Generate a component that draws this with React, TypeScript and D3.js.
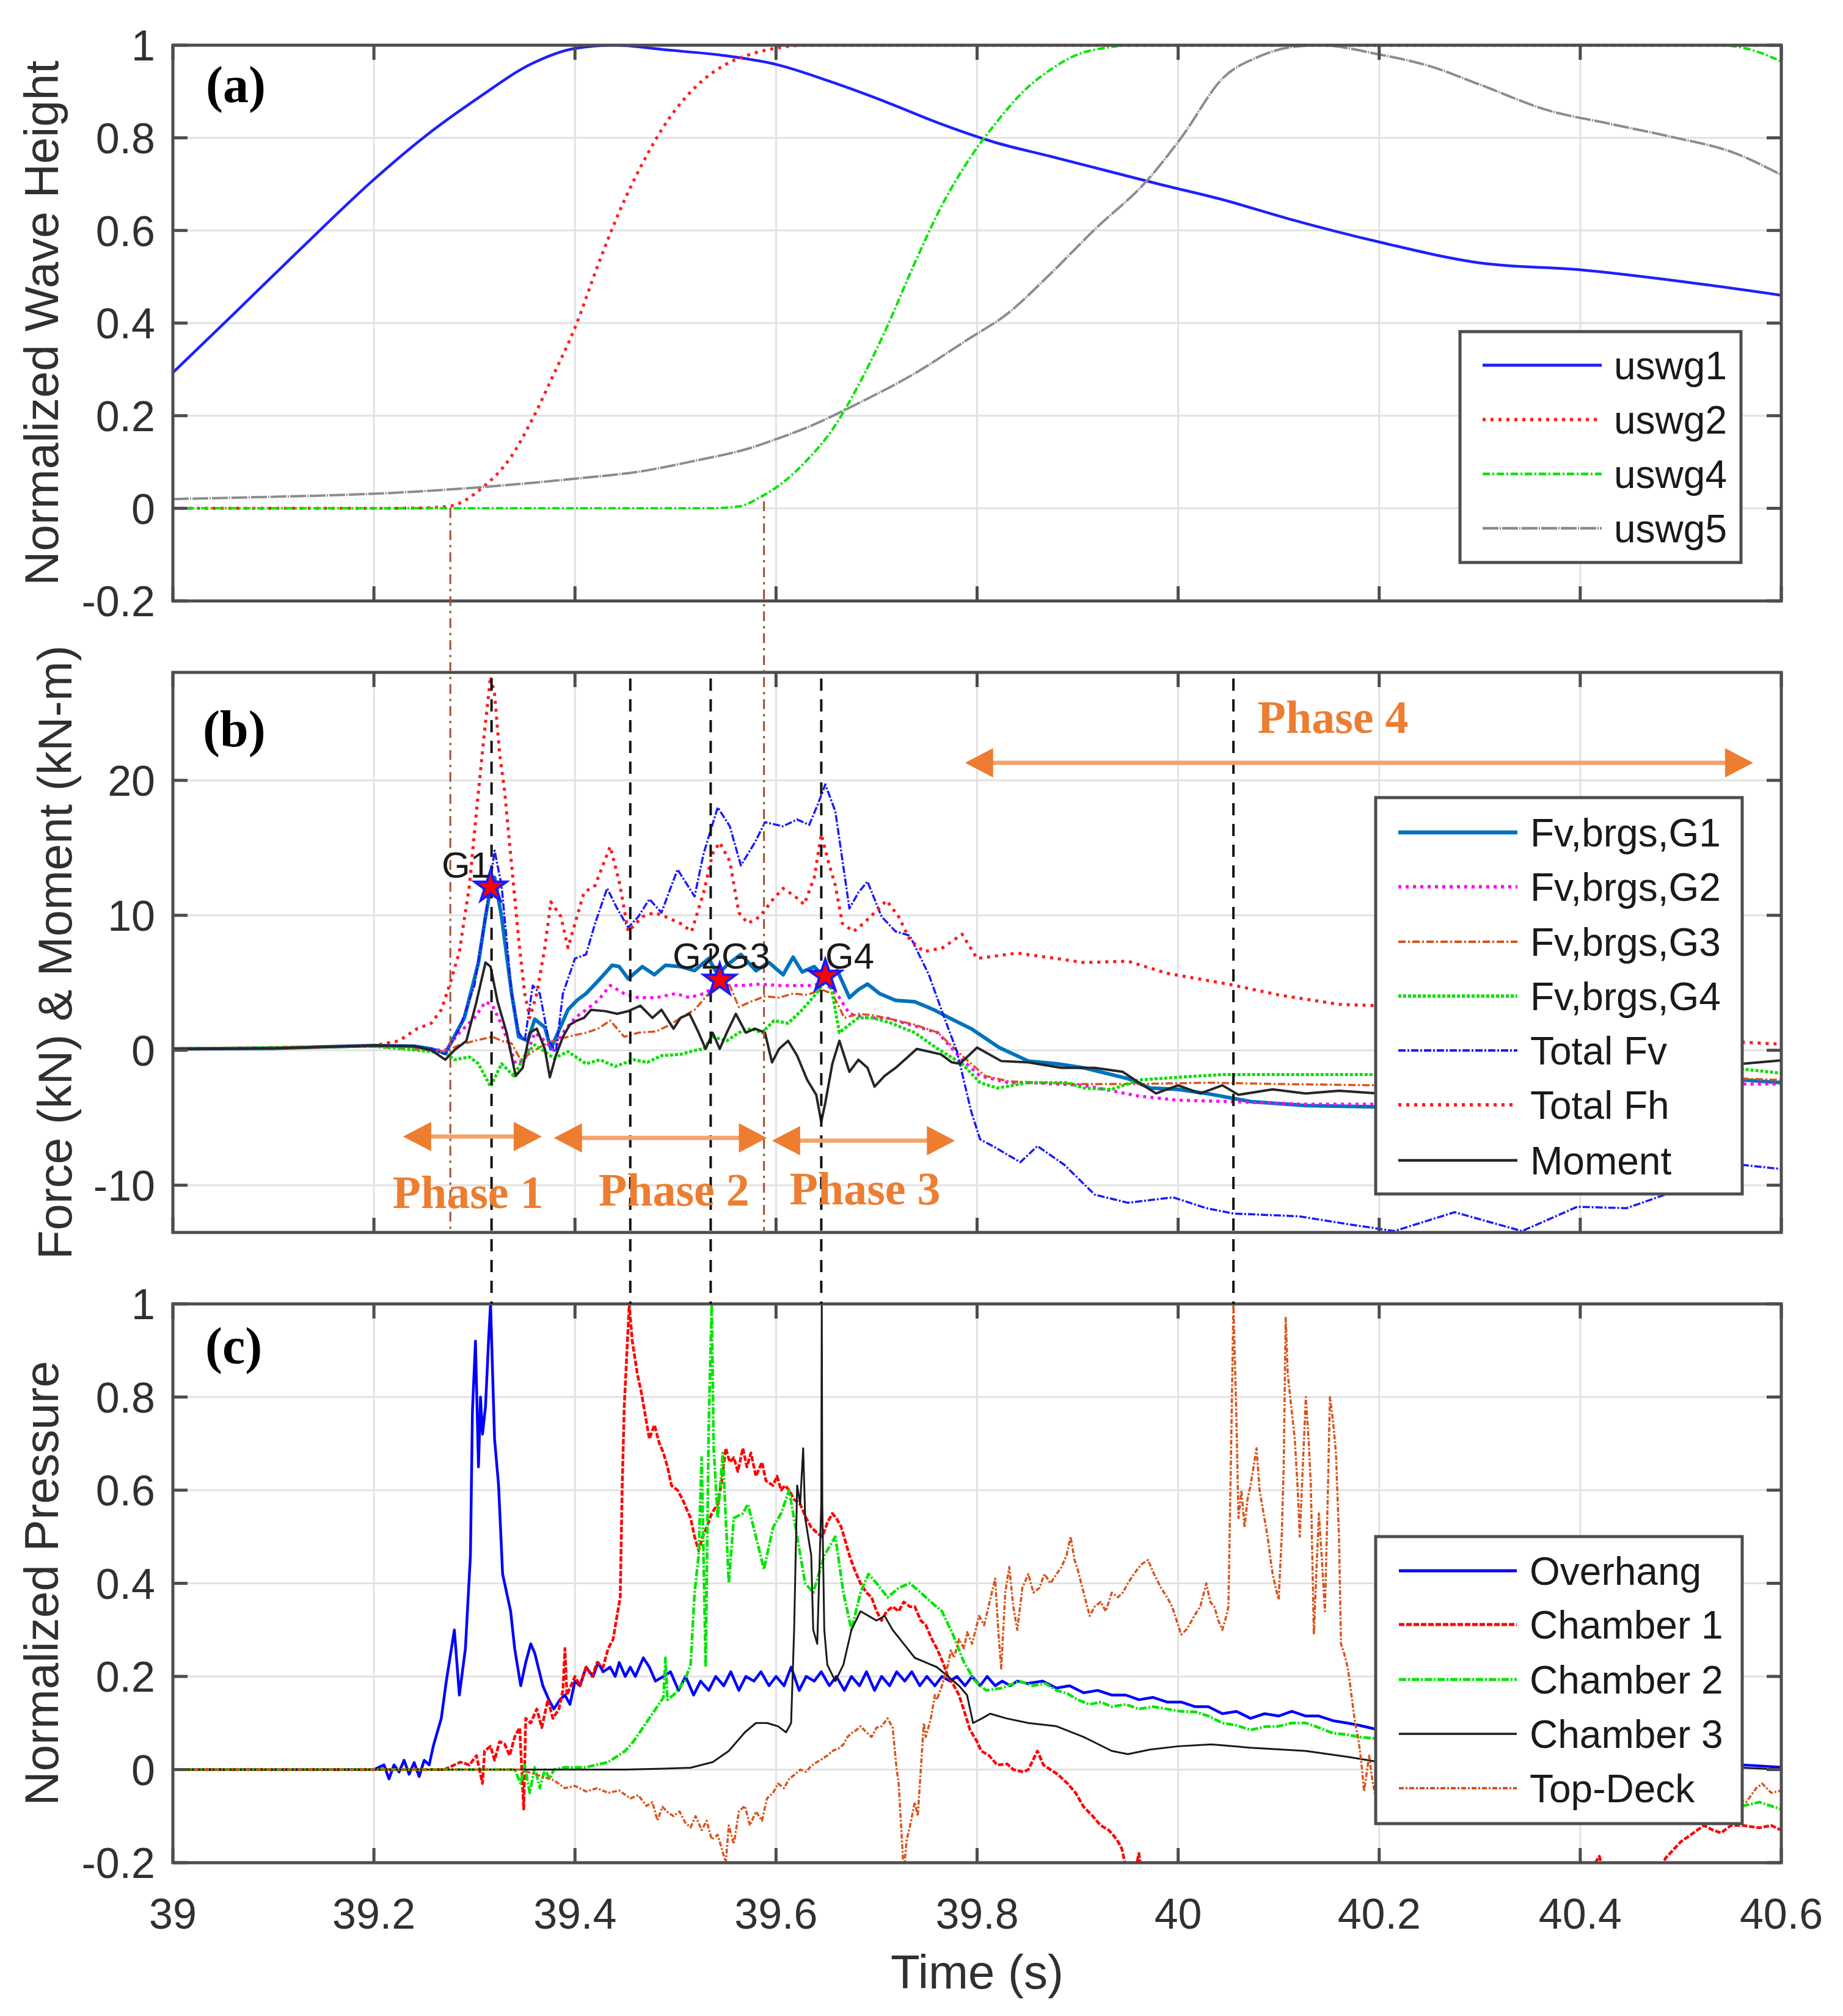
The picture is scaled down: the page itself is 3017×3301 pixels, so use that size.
import React from "react";
import * as d3 from "d3";

type Pt = [number, number];

// ---------------- axes ticks ----------------
const timeTicks = [39, 39.2, 39.4, 39.6, 39.8, 40, 40.2, 40.4, 40.6];
const timeTickLabels = ["39", "39.2", "39.4", "39.6", "39.8", "40", "40.2", "40.4", "40.6"];
const normTicks = [-0.2, 0, 0.2, 0.4, 0.6, 0.8, 1];
const normTickLabels = ["-0.2", "0", "0.2", "0.4", "0.6", "0.8", "1"];
const forceTicks = [-10, 0, 10, 20];
const forceTickLabels = ["-10", "0", "10", "20"];

// ---------------- (a) wave gauges ----------------
const waveNames = ["uswg1", "uswg2", "uswg4", "uswg5"];
const uswg1: Pt[] = [
  [39.0, 0.293], [39.063, 0.425], [39.127, 0.56], [39.2, 0.71], [39.249, 0.8], [39.303, 0.885],
  [39.357, 0.96], [39.4, 0.993], [39.44, 1.0], [39.49, 0.99], [39.547, 0.978], [39.601, 0.958],
  [39.656, 0.92], [39.71, 0.877], [39.764, 0.83], [39.818, 0.79], [39.873, 0.76], [39.927, 0.73],
  [39.981, 0.7], [40.045, 0.666], [40.11, 0.625], [40.2, 0.575], [40.3, 0.53], [40.4, 0.515],
  [40.5, 0.49], [40.6, 0.46],
];
const uswg2: Pt[] = [
  [39.0, 0], [39.2, 0], [39.25, 0.001], [39.276, 0.005], [39.308, 0.045], [39.336, 0.11], [39.357, 0.19],
  [39.379, 0.29], [39.4, 0.39], [39.422, 0.52], [39.444, 0.64], [39.466, 0.74], [39.493, 0.84],
  [39.52, 0.91], [39.547, 0.955], [39.574, 0.98], [39.601, 0.994], [39.629, 1.0], [40.6, 1.0],
];
const uswg4: Pt[] = [
  [39.0, 0], [39.53, 0], [39.563, 0.004], [39.585, 0.025], [39.607, 0.056], [39.629, 0.1], [39.656, 0.17],
  [39.683, 0.27], [39.71, 0.39], [39.737, 0.525], [39.764, 0.65], [39.791, 0.75], [39.818, 0.83],
  [39.846, 0.9], [39.873, 0.947], [39.9, 0.98], [39.927, 0.994], [39.954, 1.0], [40.54, 1.0],
  [40.57, 0.99], [40.6, 0.965],
];
const uswg5: Pt[] = [
  [39.0, 0.02], [39.1, 0.025], [39.195, 0.031], [39.303, 0.045], [39.4, 0.064], [39.466, 0.08],
  [39.52, 0.103], [39.574, 0.13], [39.601, 0.15], [39.629, 0.173], [39.683, 0.228], [39.737, 0.29],
  [39.791, 0.365], [39.83, 0.42], [39.87, 0.5], [39.916, 0.6], [39.97, 0.71], [40.003, 0.8],
  [40.045, 0.93], [40.08, 0.975], [40.11, 0.995], [40.14, 1.0], [40.2, 0.98], [40.25, 0.955],
  [40.3, 0.915], [40.367, 0.86], [40.43, 0.83], [40.495, 0.8], [40.55, 0.77], [40.6, 0.72],
];

// ---------------- (b) forces ----------------
const forceNames = ["Fv,brgs,G1", "Fv,brgs,G2", "Fv,brgs,G3", "Fv,brgs,G4", "Total Fv", "Total Fh", "Moment"];
const fvG1: Pt[] = [
  [39, 0.1], [39.1, 0.15], [39.2, 0.35], [39.24, 0.3], [39.257, 0.1], [39.271, -0.2], [39.29, 2.4],
  [39.304, 6.5], [39.311, 9.9], [39.316, 12], [39.32, 12.8], [39.327, 9.9], [39.337, 4.2], [39.344, 1],
  [39.353, 0.7], [39.36, 2.3], [39.37, 1.7], [39.376, 0.1], [39.383, 1.3], [39.393, 3], [39.402, 3.7],
  [39.411, 4.2], [39.425, 5.3], [39.437, 6.3], [39.444, 6.2], [39.453, 5.3], [39.467, 6.2], [39.479, 5.6],
  [39.49, 6.3], [39.505, 6.2], [39.519, 5.9], [39.533, 6.8], [39.542, 5.6], [39.551, 6.3], [39.565, 7.1],
  [39.58, 5.9], [39.593, 6.5], [39.607, 5.6], [39.617, 6.9], [39.626, 5.8], [39.638, 6.2], [39.649, 5.3],
  [39.661, 5.9], [39.673, 3.9], [39.682, 4.5], [39.691, 4.9], [39.703, 4.2], [39.719, 3.7], [39.738, 3.6],
  [39.757, 3], [39.775, 2.3], [39.794, 1.6], [39.822, 0.2], [39.851, -0.8], [39.879, -1.0], [39.906, -1.3],
  [39.95, -2.1], [39.972, -2.8], [40.0, -2.9], [40.028, -3.2], [40.072, -3.8], [40.127, -4.1], [40.2, -4.2],
  [40.3, -4.2], [40.4, -3.6], [40.5, -2.8], [40.562, -2.2], [40.6, -2.4],
];
const fvG2: Pt[] = [
  [39, 0.1], [39.2, 0.3], [39.271, 0], [39.285, 1.3], [39.3, 2.4], [39.311, 3.6], [39.318, 3.3],
  [39.327, 1.9], [39.341, -1], [39.35, -0.7], [39.36, 1.3], [39.37, 0.7], [39.379, 0], [39.388, 1.3],
  [39.4, 2.4], [39.411, 3], [39.423, 3.7], [39.435, 4.8], [39.449, 4.2], [39.463, 3.9], [39.481, 3.9],
  [39.5, 4.2], [39.514, 3.9], [39.528, 4.2], [39.542, 4.8], [39.565, 4.8], [39.584, 4.9], [39.603, 4.8],
  [39.621, 4.8], [39.636, 4.8], [39.649, 5], [39.663, 3.9], [39.673, 2.7], [39.691, 2.4], [39.71, 2.4],
  [39.733, 1.9], [39.761, 1.3], [39.785, -0.7], [39.803, -1.9], [39.831, -2.4], [39.85, -2.4],
  [39.906, -2.6], [39.961, -3.4], [40.0, -3.7], [40.05, -3.8], [40.127, -4], [40.2, -4], [40.35, -3.8],
  [40.5, -3], [40.562, -2.5], [40.6, -2.5],
];
const fvG3: Pt[] = [
  [39, 0.1], [39.2, 0.3], [39.271, -0.1], [39.285, 0.4], [39.3, 0.7], [39.318, 1], [39.327, 0.7],
  [39.337, 0.5], [39.346, -0.7], [39.36, 0], [39.374, 0.6], [39.393, 1], [39.411, 1.3], [39.423, 1.6],
  [39.435, 2.2], [39.449, 1], [39.463, 1.3], [39.481, 1.4], [39.495, 1.9], [39.505, 2.4], [39.519, 3],
  [39.533, 4.2], [39.544, 5], [39.554, 4.8], [39.563, 3.2], [39.575, 3.6], [39.589, 4], [39.603, 3.9],
  [39.617, 4.2], [39.631, 4.1], [39.645, 4.5], [39.656, 4.2], [39.668, 2.4], [39.682, 2.7], [39.696, 2.6],
  [39.715, 2.3], [39.738, 1.9], [39.761, 1.3], [39.785, -0.4], [39.808, -1.9], [39.831, -2.3],
  [39.9, -2.5], [39.96, -2.5], [40.03, -2.4], [40.1, -2.5], [40.2, -2.6], [40.4, -2.4], [40.562, -2.1], [40.6, -2.2],
];
const fvG4: Pt[] = [
  [39, 0.1], [39.2, 0.3], [39.271, -0.2], [39.28, -0.7], [39.295, -0.5], [39.304, -1], [39.316, -2.7],
  [39.327, -1], [39.339, -1.9], [39.35, -0.4], [39.36, 0.4], [39.37, -0.1], [39.379, -0.6], [39.393, -0.1],
  [39.411, -1], [39.425, -0.7], [39.44, -1.2], [39.458, -0.7], [39.472, -0.9], [39.486, -0.4], [39.505, -0.3],
  [39.52, 0], [39.528, 0.1], [39.537, 1], [39.551, 0.7], [39.563, 1.3], [39.575, 1.6], [39.586, 1.3],
  [39.598, 2.2], [39.612, 2.0], [39.626, 3], [39.64, 4.2], [39.652, 5.4], [39.656, 4.2], [39.663, 1.3],
  [39.673, 1.9], [39.682, 2.4], [39.696, 2.4], [39.715, 2], [39.738, 1.3], [39.761, 0.1], [39.785, -1],
  [39.803, -2.4], [39.82, -2.8], [39.851, -2.4], [39.89, -2.4], [39.906, -2.8], [39.934, -2.9],
  [39.961, -2.2], [40.0, -2], [40.044, -1.8], [40.127, -1.8], [40.2, -1.8], [40.4, -1.6], [40.562, -1.4], [40.6, -1.7],
];
const totalFv: Pt[] = [
  [39, 0.1], [39.1, 0.15], [39.2, 0.35], [39.24, 0.3], [39.257, 0.1], [39.271, -0.3], [39.285, 1.6],
  [39.3, 4.8], [39.311, 9.9], [39.32, 14.8], [39.327, 12.2], [39.337, 4.2], [39.344, 1.3], [39.35, 0.7],
  [39.358, 4.8], [39.365, 4.2], [39.374, 0.7], [39.381, -0.1], [39.388, 4.2], [39.4, 6.8], [39.411, 7.1],
  [39.42, 9.4], [39.432, 12], [39.442, 10.5], [39.453, 9.1], [39.463, 9.9], [39.474, 11.2], [39.486, 10.2],
  [39.502, 13.4], [39.519, 11.4], [39.528, 14.6], [39.542, 18], [39.554, 16.6], [39.565, 13.7],
  [39.579, 15.4], [39.589, 16.9], [39.607, 16.6], [39.621, 17.1], [39.633, 16.7], [39.642, 18.3],
  [39.649, 19.7], [39.659, 17.7], [39.673, 10.5], [39.682, 11.7], [39.691, 12.5], [39.705, 9.9],
  [39.719, 8.8], [39.733, 8.5], [39.752, 5.6], [39.766, 2.7], [39.78, -0.1], [39.794, -4.5], [39.803, -6.6],
  [39.818, -7.2], [39.843, -8.3], [39.86, -7.1], [39.887, -8.5], [39.917, -10.7], [39.95, -11.3],
  [39.995, -10.9], [40.028, -11.7], [40.055, -12.1], [40.12, -12.3], [40.17, -12.9], [40.215, -13.4],
  [40.275, -12.0], [40.342, -13.4], [40.397, -11.6], [40.446, -11.7], [40.496, -10.4], [40.562, -8.5], [40.6, -8.8],
];
const totalFh: Pt[] = [
  [39, 0.1], [39.1, 0.15], [39.2, 0.35], [39.225, 0.7], [39.243, 1.6], [39.257, 2], [39.267, 3], [39.276, 5],
  [39.285, 7.3], [39.295, 12.2], [39.302, 17.7], [39.309, 22.9], [39.316, 27.7], [39.32, 26.4], [39.325, 22],
  [39.33, 19.2], [39.337, 13.7], [39.344, 8.2], [39.35, 4.2], [39.355, 2.4], [39.362, 4.2], [39.37, 7.6],
  [39.376, 11], [39.386, 9.9], [39.393, 7.6], [39.4, 9.4], [39.409, 11.7], [39.42, 12.2], [39.435, 15.1],
  [39.444, 12.5], [39.453, 8.8], [39.467, 9.9], [39.479, 10.2], [39.49, 9.9], [39.505, 9.4], [39.516, 8.8],
  [39.528, 11.7], [39.537, 14.6], [39.544, 15.4], [39.554, 14], [39.563, 10.2], [39.572, 9.4], [39.584, 9.9],
  [39.596, 11.1], [39.607, 12], [39.619, 11.4], [39.628, 10.8], [39.638, 12.8], [39.645, 16], [39.652, 14],
  [39.659, 12.2], [39.666, 9.4], [39.677, 8.8], [39.687, 9.4], [39.698, 10.2], [39.71, 11.1], [39.722, 9.9],
  [39.733, 8.2], [39.747, 7.3], [39.766, 7.6], [39.785, 8.6], [39.8, 6.8], [39.84, 7.2], [39.879, 6.8],
  [39.906, 6.5], [39.95, 6.6], [39.989, 5.7], [40.05, 4.9], [40.1, 4.1], [40.16, 3.4], [40.2, 3.3],
  [40.3, 2.5], [40.4, 1.5], [40.5, 0.8], [40.562, 0.6], [40.6, 0.45],
];
const moment: Pt[] = [
  [39, 0.1], [39.1, 0.15], [39.2, 0.35], [39.24, 0.3], [39.257, 0], [39.271, -0.7], [39.28, 0], [39.292, 0.7],
  [39.302, 3.6], [39.311, 6.5], [39.316, 6.2], [39.323, 3.6], [39.332, 1.3], [39.341, -1.9], [39.348, -1.3],
  [39.355, 1.3], [39.362, 1.6], [39.37, 0.1], [39.375, -2], [39.381, -0.4], [39.388, 1], [39.395, 1.9],
  [39.402, 2.2], [39.409, 2.4], [39.416, 3], [39.43, 2.9], [39.442, 2.7], [39.453, 2.9], [39.465, 3.3],
  [39.477, 2.4], [39.486, 3], [39.498, 1.6], [39.505, 2.4], [39.514, 2.7], [39.523, 1.3], [39.53, 0.1],
  [39.537, 1.3], [39.544, 0.1], [39.551, 1.3], [39.56, 2.7], [39.57, 1.3], [39.579, 1.6], [39.589, 1.3],
  [39.596, -0.9], [39.603, 0.1], [39.612, 0.7], [39.621, -0.4], [39.631, -2.2], [39.64, -3.3], [39.645, -5.3],
  [39.649, -3.9], [39.656, -1], [39.663, 0.7], [39.673, -1.6], [39.682, -0.7], [39.691, -1.3], [39.698, -2.7],
  [39.708, -1.9], [39.719, -1.3], [39.728, -0.7], [39.74, 0.1], [39.752, -0.1], [39.764, -0.3], [39.775, -0.9],
  [39.783, -1], [39.8, 0.2], [39.824, -0.8], [39.851, -0.9], [39.884, -1.3], [39.917, -1.3], [39.945, -1.6],
  [39.961, -2.4], [39.978, -3.2], [40.0, -2.6], [40.022, -3.2], [40.044, -2.6], [40.06, -3.3], [40.094, -2.9],
  [40.127, -3.2], [40.16, -3.0], [40.2, -3.2], [40.3, -3.0], [40.4, -2.5], [40.5, -1.5], [40.562, -1], [40.6, -0.75],
];

// gauge stars and labels in (b)
const starPoints: Pt[] = [[39.316, 12.1], [39.544, 5.2], [39.649, 5.5]];
const gaugeLabels = ["G1", "G2G3", "G4"];
const gaugeLabelPos: Pt[] = [[39.316, 12.8], [39.497, 6.05], [39.649, 6.05]];

// phases in (b): [start, end, level]
const phaseSpans: [number, number, number][] = [
  [39.229, 39.367, -6.4], [39.379, 39.591, -6.5], [39.596, 39.778, -6.7], [39.788, 40.572, 21.3],
];
const phaseNames = ["Phase 1", "Phase 2", "Phase 3", "Phase 4"];
const phaseLabelPos: Pt[] = [[39.2935, -11.7], [39.4985, -11.5], [39.6885, -11.4], [40.154, 23.5]];

// event markers
const eventTimes = [39.317, 39.455, 39.535, 39.645, 40.055];
const onsetTimes = [39.276, 39.588];
const onsetLevels = [0, 0.015];

// ---------------- (c) pressures ----------------
const pressureNames = ["Overhang", "Chamber 1", "Chamber 2", "Chamber 3", "Top-Deck"];
const overhang: Pt[] = [
  [39, 0], [39.2, 0], [39.21, 0.01], [39.215, -0.02], [39.22, 0.01], [39.225, -0.005], [39.23, 0.02],
  [39.235, -0.01], [39.24, 0.015], [39.245, -0.015], [39.25, 0.02], [39.255, 0.01], [39.259, 0.05],
  [39.267, 0.11], [39.272, 0.19], [39.28, 0.3], [39.285, 0.16], [39.291, 0.26], [39.296, 0.46],
  [39.298, 0.77], [39.301, 0.92], [39.304, 0.65], [39.306, 0.8], [39.308, 0.72], [39.311, 0.78],
  [39.314, 0.92], [39.316, 1.0], [39.32, 0.71], [39.324, 0.61], [39.328, 0.42], [39.332, 0.38], [39.336, 0.34],
  [39.34, 0.26], [39.346, 0.18], [39.351, 0.23], [39.356, 0.27], [39.36, 0.25], [39.368, 0.18],
  [39.374, 0.15], [39.379, 0.13], [39.385, 0.15], [39.39, 0.16], [39.395, 0.14], [39.4, 0.19],
  [39.405, 0.18], [39.411, 0.22], [39.418, 0.2], [39.423, 0.23], [39.428, 0.21], [39.435, 0.22],
  [39.44, 0.2], [39.444, 0.23], [39.45, 0.2], [39.455, 0.22], [39.46, 0.2], [39.468, 0.24], [39.474, 0.22],
  [39.48, 0.19], [39.488, 0.2], [39.495, 0.21], [39.503, 0.17], [39.51, 0.2], [39.518, 0.16], [39.525, 0.19],
  [39.533, 0.17], [39.54, 0.2], [39.548, 0.18], [39.555, 0.21], [39.563, 0.17], [39.57, 0.2], [39.578, 0.19],
  [39.585, 0.21], [39.593, 0.18], [39.6, 0.2], [39.608, 0.18], [39.615, 0.22], [39.623, 0.17], [39.63, 0.2],
  [39.638, 0.19], [39.645, 0.21], [39.653, 0.18], [39.66, 0.2], [39.668, 0.17], [39.675, 0.2], [39.683, 0.18],
  [39.69, 0.21], [39.698, 0.17], [39.705, 0.2], [39.713, 0.18], [39.72, 0.21], [39.728, 0.19], [39.735, 0.21],
  [39.743, 0.18], [39.75, 0.2], [39.758, 0.18], [39.765, 0.2], [39.773, 0.19], [39.78, 0.2], [39.788, 0.18],
  [39.795, 0.2], [39.803, 0.18], [39.81, 0.2], [39.818, 0.18], [39.825, 0.19], [39.833, 0.18], [39.84, 0.19],
  [39.85, 0.185], [39.865, 0.19], [39.879, 0.175], [39.892, 0.18], [39.906, 0.165], [39.92, 0.17],
  [39.934, 0.16], [39.948, 0.16], [39.961, 0.15], [39.975, 0.155], [39.989, 0.145], [40.003, 0.145],
  [40.017, 0.135], [40.03, 0.135], [40.044, 0.12], [40.058, 0.125], [40.072, 0.11], [40.086, 0.12],
  [40.1, 0.115], [40.113, 0.125], [40.127, 0.115], [40.14, 0.115], [40.154, 0.105], [40.168, 0.1],
  [40.18, 0.095], [40.2, 0.085], [40.3, 0.06], [40.4, 0.035], [40.5, 0.015], [40.562, 0.01], [40.6, 0.005],
];
const chamber1: Pt[] = [
  [39, 0], [39.27, 0], [39.286, 0.016], [39.295, 0.01], [39.302, 0.03], [39.308, -0.03], [39.31, 0.04],
  [39.316, 0.05], [39.32, 0.02], [39.325, 0.06], [39.33, 0.055], [39.335, 0.03], [39.34, 0.07], [39.345, 0.09],
  [39.349, -0.085], [39.351, 0.11], [39.356, 0.1], [39.362, 0.13], [39.367, 0.09], [39.373, 0.15],
  [39.378, 0.11], [39.384, 0.13], [39.388, 0.17], [39.39, 0.26], [39.392, 0.16], [39.4, 0.2], [39.405, 0.18],
  [39.411, 0.22], [39.417, 0.2], [39.422, 0.23], [39.428, 0.22], [39.433, 0.26], [39.438, 0.28], [39.441, 0.32],
  [39.445, 0.37], [39.447, 0.61], [39.449, 0.78], [39.454, 1.0], [39.457, 0.92], [39.462, 0.85], [39.466, 0.81],
  [39.47, 0.76], [39.474, 0.71], [39.479, 0.74], [39.484, 0.7], [39.488, 0.68], [39.492, 0.65], [39.496, 0.61],
  [39.502, 0.6], [39.507, 0.58], [39.511, 0.56], [39.515, 0.54], [39.519, 0.5], [39.523, 0.47], [39.527, 0.5],
  [39.531, 0.52], [39.536, 0.55], [39.542, 0.57], [39.546, 0.62], [39.55, 0.69], [39.554, 0.66], [39.558, 0.67],
  [39.562, 0.64], [39.567, 0.69], [39.571, 0.65], [39.575, 0.68], [39.58, 0.63], [39.586, 0.66], [39.59, 0.62],
  [39.597, 0.61], [39.601, 0.63], [39.605, 0.6], [39.609, 0.61], [39.613, 0.6], [39.618, 0.58], [39.624, 0.57],
  [39.63, 0.54], [39.635, 0.52], [39.64, 0.51], [39.646, 0.5], [39.651, 0.53], [39.656, 0.55], [39.66, 0.54],
  [39.665, 0.52], [39.669, 0.49], [39.673, 0.46], [39.678, 0.43], [39.684, 0.4], [39.69, 0.38], [39.695, 0.37],
  [39.7, 0.34], [39.705, 0.32], [39.71, 0.34], [39.716, 0.35], [39.722, 0.34], [39.727, 0.36], [39.733, 0.35],
  [39.738, 0.35], [39.744, 0.32], [39.749, 0.31], [39.755, 0.28], [39.76, 0.26], [39.766, 0.23], [39.771, 0.2],
  [39.777, 0.18], [39.782, 0.16], [39.788, 0.12], [39.793, 0.085], [39.8, 0.06], [39.804, 0.04], [39.812, 0.03],
  [39.82, 0.01], [39.83, 0.012], [39.836, 0], [39.846, -0.005], [39.851, 0], [39.86, 0.04], [39.866, 0.01],
  [39.873, 0.0], [39.88, -0.01], [39.89, -0.03], [39.898, -0.05], [39.906, -0.08], [39.915, -0.1],
  [39.923, -0.12], [39.931, -0.13], [39.939, -0.15], [39.944, -0.17], [39.948, -0.21], [39.953, -0.25],
  [39.958, -0.21], [39.961, -0.18], [39.965, -0.25], [39.98, -0.3], [40.0, -0.35], [40.2, -0.4], [40.4, -0.3],
  [40.415, -0.2], [40.419, -0.186], [40.423, -0.22], [40.47, -0.25], [40.485, -0.19], [40.5, -0.155],
  [40.51, -0.14], [40.523, -0.12], [40.532, -0.13], [40.54, -0.136], [40.55, -0.12], [40.562, -0.12],
  [40.578, -0.125], [40.59, -0.12], [40.6, -0.13],
];
const chamber2: Pt[] = [
  [39, 0], [39.34, 0], [39.346, -0.03], [39.35, 0.01], [39.355, -0.05], [39.36, 0.005], [39.365, -0.04],
  [39.37, 0], [39.375, -0.02], [39.379, 0], [39.39, 0.005], [39.411, 0.005], [39.433, 0.016], [39.45, 0.04],
  [39.458, 0.06], [39.466, 0.085], [39.477, 0.12], [39.488, 0.155], [39.49, 0.24], [39.492, 0.15],
  [39.498, 0.16], [39.509, 0.19], [39.515, 0.225], [39.519, 0.38], [39.523, 0.46], [39.526, 0.67], [39.53, 0.22],
  [39.533, 0.73], [39.536, 1.0], [39.538, 0.69], [39.542, 0.54], [39.547, 0.68], [39.553, 0.4], [39.558, 0.54],
  [39.567, 0.55], [39.572, 0.57], [39.58, 0.5], [39.588, 0.43], [39.597, 0.52], [39.605, 0.55], [39.613, 0.6],
  [39.621, 0.5], [39.629, 0.4], [39.637, 0.38], [39.648, 0.46], [39.659, 0.5], [39.667, 0.38], [39.675, 0.3],
  [39.684, 0.38], [39.692, 0.42], [39.7, 0.4], [39.711, 0.37], [39.722, 0.39], [39.733, 0.4], [39.744, 0.38],
  [39.754, 0.36], [39.765, 0.34], [39.776, 0.29], [39.787, 0.23], [39.798, 0.19], [39.809, 0.17],
  [39.825, 0.175], [39.842, 0.19], [39.855, 0.18], [39.868, 0.185], [39.879, 0.17], [39.89, 0.163],
  [39.9, 0.15], [39.912, 0.14], [39.923, 0.145], [39.934, 0.135], [39.948, 0.14], [39.961, 0.13],
  [39.975, 0.135], [39.989, 0.13], [40.003, 0.125], [40.017, 0.124], [40.03, 0.115], [40.044, 0.1],
  [40.058, 0.095], [40.072, 0.085], [40.086, 0.092], [40.1, 0.093], [40.113, 0.1], [40.127, 0.1],
  [40.14, 0.09], [40.154, 0.078], [40.168, 0.075], [40.18, 0.07], [40.2, 0.066], [40.3, 0.03], [40.4, -0.01],
  [40.5, -0.05], [40.562, -0.078], [40.578, -0.07], [40.6, -0.085],
];
const chamber3: Pt[] = [
  [39, 0], [39.45, 0], [39.488, 0.002], [39.515, 0.004], [39.537, 0.016], [39.553, 0.04], [39.569, 0.08],
  [39.58, 0.1], [39.591, 0.1], [39.602, 0.093], [39.61, 0.08], [39.615, 0.1], [39.618, 0.3], [39.621, 0.61],
  [39.624, 0.57], [39.627, 0.69], [39.629, 0.54], [39.635, 0.46], [39.637, 0.3], [39.641, 0.27], [39.645, 0.57],
  [39.6455, 1.0], [39.646, 0.57], [39.648, 0.3], [39.651, 0.225], [39.659, 0.19], [39.667, 0.225],
  [39.675, 0.3], [39.684, 0.34], [39.692, 0.33], [39.7, 0.32], [39.708, 0.33], [39.716, 0.3], [39.727, 0.27],
  [39.738, 0.24], [39.749, 0.23], [39.76, 0.22], [39.771, 0.2], [39.782, 0.18], [39.79, 0.16], [39.796, 0.1],
  [39.805, 0.11], [39.813, 0.12], [39.829, 0.11], [39.851, 0.1], [39.879, 0.093], [39.906, 0.07],
  [39.934, 0.04], [39.95, 0.033], [39.972, 0.043], [40.0, 0.05], [40.033, 0.054], [40.072, 0.047],
  [40.127, 0.04], [40.17, 0.027], [40.2, 0.016], [40.4, 0.005], [40.562, 0.004], [40.6, 0],
];
const topDeck: Pt[] = [
  [39, 0], [39.3, 0], [39.346, 0.0], [39.36, -0.01], [39.379, -0.023], [39.39, -0.04], [39.4, -0.035],
  [39.411, -0.047], [39.422, -0.04], [39.433, -0.05], [39.444, -0.045], [39.455, -0.062], [39.463, -0.055],
  [39.471, -0.078], [39.477, -0.07], [39.482, -0.109], [39.487, -0.08], [39.493, -0.093], [39.498, -0.1],
  [39.504, -0.09], [39.51, -0.115], [39.515, -0.124], [39.52, -0.1], [39.526, -0.13], [39.531, -0.11],
  [39.536, -0.15], [39.542, -0.14], [39.546, -0.17], [39.55, -0.2], [39.553, -0.12], [39.558, -0.16],
  [39.563, -0.09], [39.569, -0.078], [39.574, -0.12], [39.58, -0.09], [39.586, -0.11], [39.591, -0.062],
  [39.597, -0.05], [39.602, -0.03], [39.608, -0.04], [39.613, -0.02], [39.619, -0.01], [39.624, 0],
  [39.63, -0.005], [39.635, 0.008], [39.64, 0.015], [39.646, 0.023], [39.651, 0.03], [39.656, 0.04],
  [39.662, 0.045], [39.667, 0.054], [39.671, 0.07], [39.675, 0.078], [39.68, 0.085], [39.684, 0.093],
  [39.69, 0.08], [39.695, 0.07], [39.7, 0.09], [39.705, 0.093], [39.711, 0.11], [39.716, 0.09], [39.72, 0.0],
  [39.722, -0.03], [39.727, -0.22], [39.73, -0.15], [39.733, -0.124], [39.738, -0.07], [39.741, -0.1],
  [39.744, 0.0], [39.747, 0.1], [39.749, 0.07], [39.754, 0.11], [39.758, 0.16], [39.76, 0.15], [39.765, 0.18],
  [39.771, 0.225], [39.774, 0.256], [39.777, 0.24], [39.782, 0.28], [39.787, 0.26], [39.79, 0.295],
  [39.795, 0.27], [39.802, 0.33], [39.807, 0.31], [39.813, 0.365], [39.818, 0.41], [39.821, 0.3],
  [39.824, 0.217], [39.828, 0.38], [39.832, 0.435], [39.836, 0.35], [39.84, 0.3], [39.845, 0.39],
  [39.851, 0.42], [39.856, 0.38], [39.862, 0.39], [39.867, 0.42], [39.873, 0.4], [39.879, 0.42],
  [39.884, 0.435], [39.889, 0.46], [39.893, 0.5], [39.897, 0.45], [39.9, 0.43], [39.906, 0.38],
  [39.912, 0.33], [39.917, 0.35], [39.923, 0.36], [39.928, 0.34], [39.934, 0.38], [39.94, 0.37],
  [39.945, 0.38], [39.95, 0.4], [39.956, 0.42], [39.963, 0.44], [39.97, 0.45], [39.976, 0.42], [39.983, 0.39],
  [39.989, 0.37], [39.994, 0.35], [40.0, 0.31], [40.003, 0.29], [40.008, 0.3], [40.011, 0.31], [40.016, 0.33],
  [40.022, 0.35], [40.028, 0.4], [40.032, 0.36], [40.036, 0.35], [40.04, 0.32], [40.044, 0.3], [40.048, 0.33],
  [40.05, 0.35], [40.052, 0.6], [40.055, 1.0], [40.058, 0.75], [40.06, 0.54], [40.063, 0.6], [40.066, 0.52],
  [40.069, 0.58], [40.072, 0.61], [40.075, 0.65], [40.078, 0.69], [40.081, 0.6], [40.085, 0.55],
  [40.089, 0.5], [40.092, 0.45], [40.094, 0.42], [40.097, 0.39], [40.1, 0.365], [40.103, 0.5], [40.105, 0.65],
  [40.107, 0.97], [40.109, 0.85], [40.111, 0.81], [40.114, 0.75], [40.116, 0.71], [40.119, 0.6],
  [40.121, 0.5], [40.124, 0.65], [40.127, 0.8], [40.13, 0.7], [40.132, 0.61], [40.134, 0.4], [40.135, 0.29],
  [40.138, 0.45], [40.14, 0.55], [40.143, 0.45], [40.146, 0.34], [40.149, 0.6], [40.151, 0.8], [40.154, 0.75],
  [40.157, 0.68], [40.16, 0.5], [40.162, 0.27], [40.165, 0.25], [40.168, 0.225], [40.17, 0.2], [40.173, 0.15],
  [40.176, 0.1], [40.179, 0.07], [40.182, 0.02], [40.185, -0.047], [40.188, 0.0], [40.19, 0.03],
  [40.193, -0.02], [40.196, -0.054], [40.2, 0.0], [40.21, -0.02], [40.3, -0.03], [40.5, -0.05], [40.54, -0.08],
  [40.552, -0.06], [40.565, -0.07], [40.575, -0.04], [40.581, -0.03], [40.59, -0.05], [40.6, -0.045],
];

// ---------------- styling (kept apart from data) ----------------
type Sty = { color: string; width: number; dash?: string };
const waveStyles: Sty[] = [
  { color: "#1f1fff", width: 4.5 },
  { color: "#ff2020", width: 5, dash: "5 8" },
  { color: "#00e600", width: 4, dash: "12 4 3 4" },
  { color: "#8c8c8c", width: 4, dash: "26 2 2 2" },
];
const forceStyles: Sty[] = [
  { color: "#0072bd", width: 6 },
  { color: "#ff00ff", width: 5, dash: "5 7" },
  { color: "#d95319", width: 3.5, dash: "12 4 3 4" },
  { color: "#00e000", width: 5, dash: "5 3" },
  { color: "#1a1aff", width: 3.5, dash: "12 3 3 3" },
  { color: "#ff1a1a", width: 5, dash: "5 8" },
  { color: "#262626", width: 4 },
];
const pressureStyles: Sty[] = [
  { color: "#0000ff", width: 4.5 },
  { color: "#ff0000", width: 4.5, dash: "9 3" },
  { color: "#00e600", width: 4.5, dash: "12 3 3 3" },
  { color: "#1a1a1a", width: 3 },
  { color: "#d95319", width: 3.5, dash: "8 3 3 3" },
];

const W = 3017;
const H = 3301;
const X0 = 283;
const X1 = 2916;
const SANS = "'Liberation Sans', Arial, sans-serif";
const SERIF = "'Liberation Serif', 'Times New Roman', serif";
const AXIS = "#4d4d4d";
const TICKTXT = "#303030";
const ORANGE = "#ED7D31";

const xScale = d3.scaleLinear().domain([39, 40.6]).range([X0, X1]);

type LegendSpec = {
  x: number; y: number; w: number; h: number;
  rowY: number[]; lx0: number; lx1: number; tx: number;
};

type PanelProps = {
  id: string;
  top: number;
  bottom: number;
  yDomain: [number, number];
  yTicks: number[];
  yTickLabels: string[];
  series: Pt[][];
  styles: Sty[];
  names: string[];
  smooth?: boolean;
  showXLabels?: boolean;
  yTitle: string;
  yTitleX: number;
  tag: string;
  tagX: number;
  tagY: number;
  legend: LegendSpec;
};

function Panel(p: PanelProps) {
  const y = d3.scaleLinear().domain(p.yDomain).range([p.bottom, p.top]);
  const line = d3
    .line<Pt>()
    .x((d) => xScale(d[0]))
    .y((d) => y(d[1]))
    .curve(p.smooth ? d3.curveMonotoneX : d3.curveLinear);
  const TL = 24;
  const L = p.legend;
  return (
    <g>
      <defs>
        <clipPath id={`clip-${p.id}`}>
          <rect x={X0} y={p.top} width={X1 - X0} height={p.bottom - p.top} />
        </clipPath>
      </defs>
      <rect x={X0} y={p.top} width={X1 - X0} height={p.bottom - p.top} fill="#fff" />
      {timeTicks.map((t, i) => (
        <line key={`gx${i}`} x1={xScale(t)} x2={xScale(t)} y1={p.top} y2={p.bottom} stroke="#e2e2e2" strokeWidth={3} />
      ))}
      {p.yTicks.map((v, i) => (
        <line key={`gy${i}`} x1={X0} x2={X1} y1={y(v)} y2={y(v)} stroke="#e2e2e2" strokeWidth={3} />
      ))}
      <g clipPath={`url(#clip-${p.id})`}>
        {p.series.map((s, i) => (
          <path
            key={`s${i}`}
            d={line(s) || ""}
            fill="none"
            stroke={p.styles[i].color}
            strokeWidth={p.styles[i].width}
            strokeDasharray={p.styles[i].dash}
            strokeLinejoin="round"
          />
        ))}
      </g>
      <rect x={X0} y={p.top} width={X1 - X0} height={p.bottom - p.top} fill="none" stroke={AXIS} strokeWidth={5} />
      {timeTicks.map((t, i) => (
        <g key={`tx${i}`} stroke={AXIS} strokeWidth={5}>
          <line x1={xScale(t)} x2={xScale(t)} y1={p.bottom} y2={p.bottom - TL} />
          <line x1={xScale(t)} x2={xScale(t)} y1={p.top} y2={p.top + TL} />
        </g>
      ))}
      {p.yTicks.map((v, i) => (
        <g key={`ty${i}`} stroke={AXIS} strokeWidth={5}>
          <line x1={X0} x2={X0 + TL} y1={y(v)} y2={y(v)} />
          <line x1={X1} x2={X1 - TL} y1={y(v)} y2={y(v)} />
        </g>
      ))}
      {p.yTicks.map((v, i) => (
        <text key={`yl${i}`} x={254} y={y(v)} dy="0.36em" textAnchor="end" fontFamily={SANS} fontSize={70} fill={TICKTXT}>
          {p.yTickLabels[i]}
        </text>
      ))}
      {p.showXLabels &&
        timeTicks.map((t, i) => (
          <text key={`xl${i}`} x={xScale(t)} y={3158} textAnchor="middle" fontFamily={SANS} fontSize={70} fill={TICKTXT}>
            {timeTickLabels[i]}
          </text>
        ))}
      <text
        transform={`translate(${p.yTitleX},${(p.top + p.bottom) / 2}) rotate(-90)`}
        dy="0.36em"
        textAnchor="middle"
        fontFamily={SANS}
        fontSize={78}
        fill={TICKTXT}
      >
        {p.yTitle}
      </text>
      <text x={p.tagX} y={p.tagY} fontFamily={SERIF} fontWeight="bold" fontSize={84} fill="#000">
        {p.tag}
      </text>
      <rect x={L.x} y={L.y} width={L.w} height={L.h} fill="#fff" stroke={AXIS} strokeWidth={5} />
      {p.names.map((n, i) => (
        <g key={`lg${i}`}>
          <line
            x1={L.lx0}
            x2={L.lx1}
            y1={L.rowY[i]}
            y2={L.rowY[i]}
            stroke={p.styles[i].color}
            strokeWidth={p.styles[i].width + 0.5}
            strokeDasharray={p.styles[i].dash}
          />
          <text x={L.tx} y={L.rowY[i]} dy="0.36em" fontFamily={SANS} fontSize={64} fill="#1a1a1a">
            {n}
          </text>
        </g>
      ))}
    </g>
  );
}

function Arrow({ x0, x1, y }: { x0: number; x1: number; y: number }) {
  const hl = 46;
  const hw = 24;
  return (
    <g>
      <line x1={x0 + hl - 4} x2={x1 - hl + 4} y1={y} y2={y} stroke="#F2A46C" strokeWidth={7} />
      <path d={`M${x0},${y} L${x0 + hl},${y - hw} L${x0 + hl},${y + hw} Z`} fill={ORANGE} />
      <path d={`M${x1},${y} L${x1 - hl},${y - hw} L${x1 - hl},${y + hw} Z`} fill={ORANGE} />
    </g>
  );
}

export default function App() {
  const topA = 74, botA = 984;
  const topB = 1101, botB = 2018;
  const topC = 2135, botC = 3050;
  const yA = d3.scaleLinear().domain([-0.2, 1]).range([botA, topA]);
  const yB = d3.scaleLinear().domain([-13.5, 28]).range([botB, topB]);
  const star = d3.symbol().type(d3.symbolStar).size(850)() || "";

  return (
    <svg
      width={W}
      height={H}
      viewBox={`0 0 ${W} ${H}`}
      style={{ position: "absolute", left: 0, top: 0, display: "block", background: "#fff" }}
    >
      <rect x={0} y={0} width={W} height={H} fill="#fff" />
      <Panel
        id="a"
        top={topA}
        bottom={botA}
        yDomain={[-0.2, 1]}
        yTicks={normTicks}
        yTickLabels={normTickLabels}
        series={[uswg1, uswg2, uswg4, uswg5]}
        styles={waveStyles}
        names={waveNames}
        smooth
        yTitle="Normalized Wave Height"
        yTitleX={67}
        tag="(a)"
        tagX={337}
        tagY={167}
        legend={{ x: 2390, y: 543, w: 460, h: 378, rowY: [598, 687, 776, 865], lx0: 2427, lx1: 2622, tx: 2642 }}
      />
      <Panel
        id="b"
        top={topB}
        bottom={botB}
        yDomain={[-13.5, 28]}
        yTicks={forceTicks}
        yTickLabels={forceTickLabels}
        series={[fvG1, fvG2, fvG3, fvG4, totalFv, totalFh, moment]}
        styles={forceStyles}
        names={forceNames}
        yTitle="Force (kN) & Moment (kN-m)"
        yTitleX={89}
        tag="(b)"
        tagX={332}
        tagY={1222}
        legend={{
          x: 2252, y: 1306, w: 600, h: 649,
          rowY: [1363, 1452, 1542, 1631, 1720, 1809, 1900], lx0: 2289, lx1: 2484, tx: 2505,
        }}
      />
      <Panel
        id="c"
        top={topC}
        bottom={botC}
        yDomain={[-0.2, 1]}
        yTicks={normTicks}
        yTickLabels={normTickLabels}
        series={[overhang, chamber1, chamber2, chamber3, topDeck]}
        styles={pressureStyles}
        names={pressureNames}
        showXLabels
        yTitle="Normalized Pressure"
        yTitleX={67}
        tag="(c)"
        tagX={336}
        tagY={2232}
        legend={{
          x: 2252, y: 2516, w: 600, h: 470,
          rowY: [2572, 2660, 2750, 2839, 2928], lx0: 2290, lx1: 2483, tx: 2504,
        }}
      />

      {onsetTimes.map((t, i) => (
        <line
          key={`on${i}`}
          x1={xScale(t)}
          x2={xScale(t)}
          y1={yA(onsetLevels[i])}
          y2={botB}
          stroke="#a0522d"
          strokeWidth={3}
          strokeDasharray="16 8 4 8"
        />
      ))}
      {eventTimes.map((t, i) => (
        <line
          key={`ev${i}`}
          x1={xScale(t)}
          x2={xScale(t)}
          y1={topB + 10}
          y2={topC}
          stroke="#111"
          strokeWidth={4}
          strokeDasharray="20 14"
        />
      ))}

      {starPoints.map((d, i) => (
        <path
          key={`st${i}`}
          d={star}
          transform={`translate(${xScale(d[0])},${yB(d[1])})`}
          fill="#ff0000"
          stroke="#1a1aff"
          strokeWidth={4}
        />
      ))}
      {gaugeLabels.map((g, i) => (
        <text
          key={`gl${i}`}
          x={xScale(gaugeLabelPos[i][0])}
          y={yB(gaugeLabelPos[i][1])}
          textAnchor={i === 0 ? "end" : "start"}
          fontFamily={SANS}
          fontSize={60}
          fill="#1a1a1a"
        >
          {g}
        </text>
      ))}

      {phaseSpans.map((s, i) => (
        <Arrow key={`ph${i}`} x0={xScale(s[0])} x1={xScale(s[1])} y={yB(s[2])} />
      ))}
      {phaseNames.map((n, i) => (
        <text
          key={`pn${i}`}
          x={xScale(phaseLabelPos[i][0])}
          y={yB(phaseLabelPos[i][1])}
          textAnchor="middle"
          fontFamily={SERIF}
          fontWeight="bold"
          fontSize={76}
          fill={ORANGE}
        >
          {n}
        </text>
      ))}

      <text x={(X0 + X1) / 2} y={3256} textAnchor="middle" fontFamily={SANS} fontSize={78} fill={TICKTXT}>
        Time (s)
      </text>
    </svg>
  );
}
